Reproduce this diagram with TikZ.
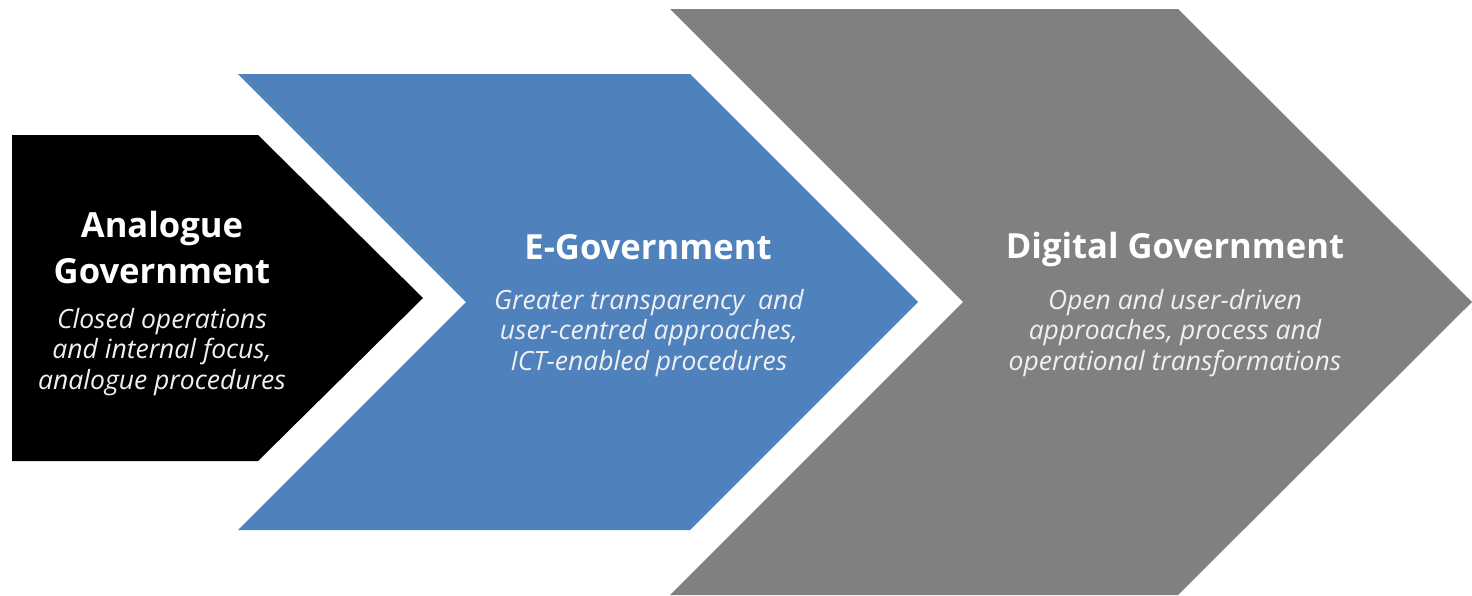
\documentclass[tikz,border=0pt]{standalone}
\usepackage{fontspec}
\setmainfont{Open Sans}
\definecolor{egblue}{HTML}{4F81BD}
\definecolor{dggrey}{HTML}{808080}
\definecolor{bodywhite}{HTML}{F0F0F0}
\tikzset{
  titletext/.style={text=white,font=\bfseries\fontsize{34.6}{46}\selectfont,align=center,inner sep=0pt,anchor=base},
  bodytext/.style={text=bodywhite,font=\itshape\fontsize{26.5}{30.5}\selectfont,align=center,inner sep=0pt,anchor=base}
}
\begin{document}
\begin{tikzpicture}[x=1pt,y=-1pt]
\useasboundingbox (0,0) rectangle (1472,595);
% shapes
\fill[black] (12,135) -- (258,135) -- (423,298) -- (258,461) -- (12,461) -- cycle;
\fill[egblue] (238,74) -- (690,74) -- (918,302) -- (690,530) -- (238,530) -- (466,302) -- cycle;
\fill[dggrey] (670,9) -- (1178,9) -- (1472,302) -- (1178,595) -- (670,595) -- (963,302) -- cycle;
% texts (anchor base = baseline of the last line)
\node[titletext] (t1) at (162,283) {Analogue\\Government};
\node[bodytext] (b1) at (162,389) {Closed operations\\and internal focus,\\analogue procedures};
\node[titletext] (t2) at (648,259) {E-Government};
\node[bodytext] (b2) at (649,370) {Greater transparency~ and\\user-centred approaches,\\ICT-enabled procedures};
\node[titletext] (t3) at (1175,258) {Digital Government};
\node[bodytext] (b3) at (1175,370) {Open and user-driven\\approaches, process and\\operational transformations};
\end{tikzpicture}
\end{document}
